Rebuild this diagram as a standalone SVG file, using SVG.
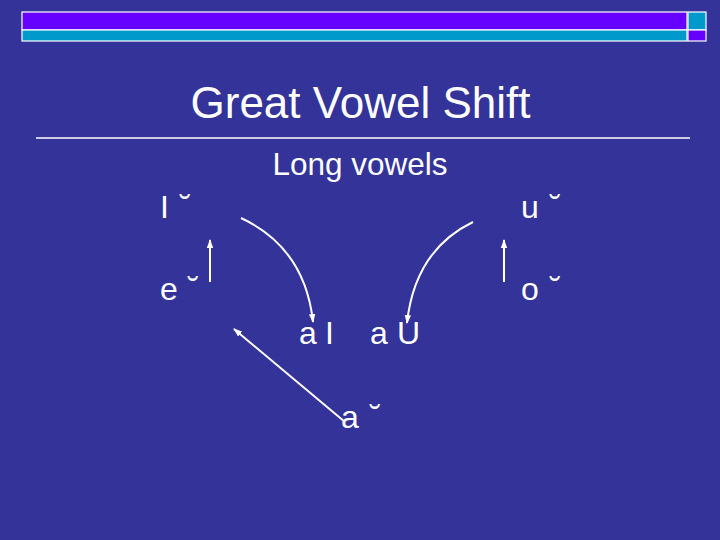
<svg xmlns="http://www.w3.org/2000/svg" width="720" height="540" viewBox="0 0 720 540">
<style>
text{font-family:"Liberation Sans",Arial,sans-serif;fill:#fff}
.v{font-size:32px}
.c{fill:none;stroke:#fff;stroke-width:2}
</style>
<defs>
<marker id="ah" markerWidth="9" markerHeight="8" refX="8" refY="4" orient="auto" markerUnits="userSpaceOnUse">
<path d="M0,0.8 L9,4 L0,7.2 Z" fill="#fff"/>
</marker>
</defs>
<rect width="720" height="540" fill="#333399"/>
<g id="header" stroke="#fff" stroke-width="1.2">
<rect x="22" y="12" width="665" height="18" fill="#6600FF"/>
<rect x="22" y="30" width="665" height="11" fill="#0099CC"/>
<rect x="688" y="12" width="18" height="18" fill="#0099CC"/>
<rect x="688" y="30" width="18" height="11" fill="#6600FF"/>
</g>
<g id="title">
<text x="360.5" y="118" font-size="44" text-anchor="middle">Great Vowel Shift</text>
<line x1="36" y1="138" x2="690" y2="138" stroke="#fff" stroke-width="1.3"/>
<text x="360" y="175" font-size="31.5" text-anchor="middle">Long vowels</text>
</g>
<g id="n-i"><text class="v" x="160" y="218">I<tspan x="180">˘</tspan></text></g>
<g id="n-e"><text class="v" x="160" y="300">e<tspan x="188">˘</tspan></text></g>
<g id="n-u"><text class="v" x="521" y="218">u<tspan x="550">˘</tspan></text></g>
<g id="n-o"><text class="v" x="521" y="300">o<tspan x="550">˘</tspan></text></g>
<g id="n-ai"><text class="v" x="299" y="344">a<tspan x="325">I</tspan></text></g>
<g id="n-au"><text class="v" x="370" y="344">a<tspan x="397">U</tspan></text></g>
<g id="n-a"><text class="v" x="341" y="428">a<tspan x="370">˘</tspan></text></g>
<g id="connectors" class="c">
<line class="c" x1="210" y1="282" x2="210" y2="240" marker-end="url(#ah)"/>
<line class="c" x1="504" y1="282" x2="504" y2="240" marker-end="url(#ah)"/>
<path class="c" d="M241,218 Q305,248 313,322" marker-end="url(#ah)"/>
<path class="c" d="M473,222 Q415,250 407,323" marker-end="url(#ah)"/>
<line class="c" x1="345" y1="422" x2="234" y2="329" marker-end="url(#ah)"/>
</g>
</svg>
